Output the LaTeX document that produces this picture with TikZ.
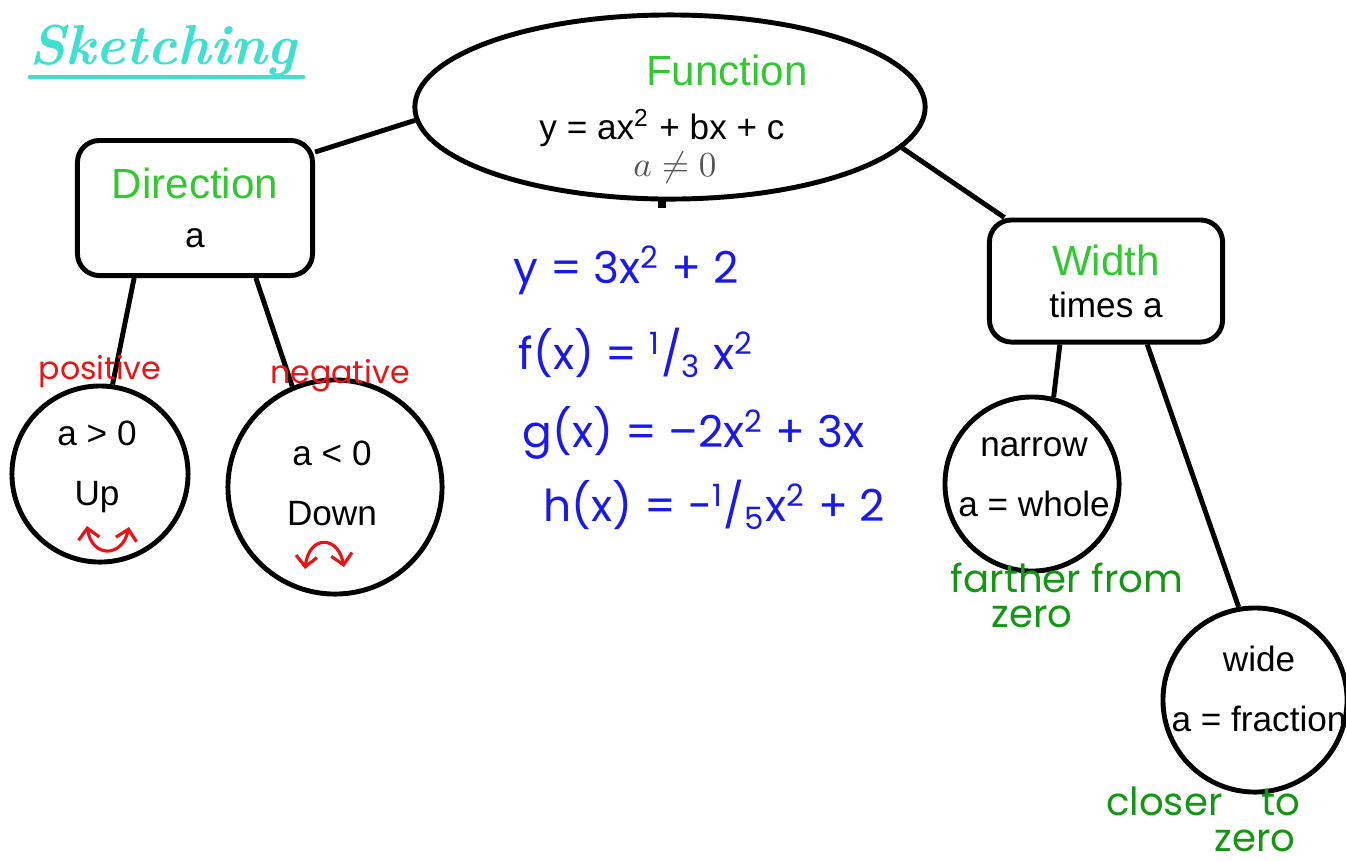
\documentclass[tikz,border=0pt]{standalone}
\usepackage{fontspec}
\setmainfont{Liberation Sans}
\newfontfamily\handfont{Poppins}
\newfontfamily\titlefont{Latin Modern Roman}
\usepackage{tikz}
\usetikzlibrary{arrows.meta,positioning,shapes.geometric}

\definecolor{headgreen}{RGB}{50,200,50}
\definecolor{notegreen}{RGB}{20,150,20}
\definecolor{notered}{RGB}{235,20,20}
\definecolor{noteblue}{RGB}{25,25,235}
\definecolor{notegrey}{RGB}{85,85,85}
\definecolor{titleteal}{RGB}{64,224,208}

\tikzset{
  outline/.style={draw, line width=1.4pt},
  link/.style={line width=1.4pt},
  headbox/.style={outline, rectangle, rounded corners=0.22cm, inner sep=0pt, align=center},
  casecircle/.style={outline, circle, inner sep=0pt},
  plain/.style={inner sep=1pt, font=\fontsize{10}{12}\selectfont},
  casetext/.style={plain, align=center},
  heading/.style={text=headgreen, font=\fontsize{12}{14}\selectfont},
  rednote/.style={inner sep=0pt, text=notered, font=\handfont\fontsize{9}{10}\selectfont},
  greennote/.style={inner sep=0pt, text=notegreen, font=\handfont\fontsize{11}{13}\selectfont},
  eqnote/.style={inner sep=0pt, anchor=west, text=noteblue, font=\handfont\fontsize{12.5}{15}\selectfont},
  redmark/.style={notered, line width=0.9pt, {Straight Barb[length=3pt]}-{Straight Barb[length=3pt]}}
}

\begin{document}
\begin{tikzpicture}[x=0.01cm,y=-0.01cm]
    \useasboundingbox (0,0) rectangle (1346,860);
    \clip (0,0) rectangle (1346,860);

    % Title
    \node[text=titleteal, font=\titlefont\itshape\bfseries\fontsize{16}{18}\selectfont] (title) at (163,50) {Sketching};
    \draw[titleteal, line width=1.3pt, line cap=round] (30,77) -- (303,77);

    % Function ellipse
    \node[outline, ellipse, minimum width=5.1cm, minimum height=1.84cm, inner sep=0pt] (func) at (670,107) {};
    \node[heading] (functitle) at (727,70) {Function};
    \node[plain] (funceq) at (662,128) {y = ax\textsuperscript{2} + bx + c};
    \node[inner sep=0pt, text=notegrey, font=\fontsize{10}{12}\selectfont] (funcnote) at (675,168) {$a\neq 0$};
    \draw[line width=2.2pt] (662,197) -- (662,208);

    % Direction and Width boxes
    \node[headbox, minimum width=2.35cm, minimum height=1.35cm] (dir) at (195,208)
        {{\color{headgreen}\fontsize{12}{14}\selectfont Direction}\\[2pt]{\fontsize{10}{12}\selectfont a}};
    \node[headbox, minimum width=2.33cm, minimum height=1.22cm] (wid) at (1106,281)
        {{\color{headgreen}\fontsize{12}{14}\selectfont Width}\\{\fontsize{10}{12}\selectfont times a}};

    % Case circles
    \node[casecircle, minimum size=1.76cm] (up) at (100,474) {};
    \node[casecircle, minimum size=2.14cm] (down) at (335,487) {};
    \node[casecircle, minimum size=1.74cm] (narrow) at (1032,484) {};
    \node[casecircle, minimum size=1.84cm] (wide) at (1255,700) {};
    \node[casetext] (uptext) at (97,467) {a > 0\\[5pt]Up};
    \node[casetext] (downtext) at (332,483) {a < 0\\[5pt]Down};
    \node[casetext] (narrowtext) at (1034,477) {narrow\\[5pt]a = whole};
    \node[casetext] (widetext) at (1259,689) {wide\\[5pt]a = fraction};

    % Connectors
    \draw[link] (func.183) -- (dir.25);
    \draw[link] (func.-10) -- (wid.148);
    \draw[link] (dir.-131) -- (up.82);
    \draw[link] (dir.-49) -- (down.113);
    \draw[link] (wid.-126) -- (narrow.76);
    \draw[link] (wid.-57) -- (wide.100);

    % Red notes
    \node[rednote] (pos) at (100,372) {positive};
    \node[rednote] (neg) at (340,376) {negative};
    \draw[redmark] (87,526) .. controls (92,558) and (122,558) .. (129,527);
    \draw[redmark] (305,569) .. controls (309,535) and (338,535) .. (344,567);

    % Blue examples
    \node[eqnote] (eqa) at (513,270) {y = 3x\textsuperscript{2} + 2};
    \node[eqnote] (eqb) at (518,353) {f(x) = \textsuperscript{1}/\textsubscript{3} x\textsuperscript{2}};
    \node[eqnote] (eqc) at (522,433) {g(x) = –2x\textsuperscript{2} + 3x};
    \node[eqnote] (eqd) at (543,505) {h(x) = -\textsuperscript{1}/\textsubscript{5}x\textsuperscript{2} + 2};

    % Green notes
    \node[greennote] (far) at (1067,578) {farther from};
    \node[greennote] (farzero) at (1032,617) {zero};
    \node[greennote] (close) at (1203,801) {closer\quad to};
    \node[greennote] (closezero) at (1255,841) {zero};
\end{tikzpicture}
\end{document}
